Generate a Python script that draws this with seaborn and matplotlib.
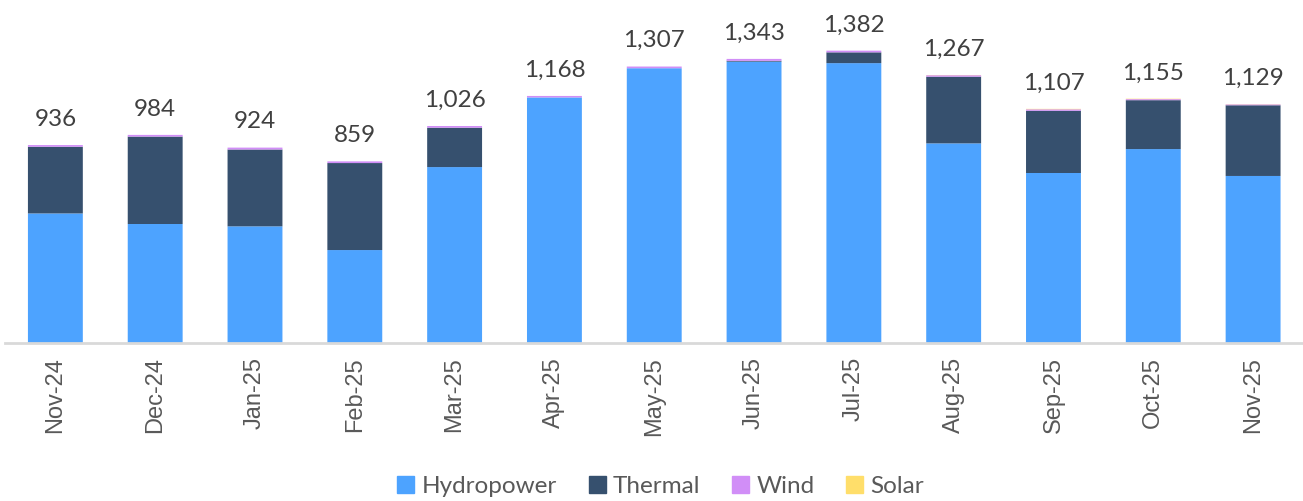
import numpy as np
import pandas as pd
import matplotlib.pyplot as plt
import seaborn as sns
from matplotlib.patches import Patch

months = ["Nov-24", "Dec-24", "Jan-25", "Feb-25", "Mar-25", "Apr-25", "May-25",
          "Jun-25", "Jul-25", "Aug-25", "Sep-25", "Oct-25", "Nov-25"]
hydro = [613, 563, 552, 440, 832, 1161, 1299, 1330, 1323, 944, 804, 917, 790]
thermal = [315, 413, 363, 411, 186, 0, 0, 4, 51, 315, 294, 231, 334]
wind = [8, 8, 9, 8, 8, 7, 8, 9, 8, 7, 7, 5, 4]
solar = [0, 0, 0, 0, 0, 0, 0, 0, 0, 1, 2, 2, 1]
totals = [936, 984, 924, 859, 1026, 1168, 1307, 1343, 1382, 1267, 1107, 1155, 1129]

colors = {"Hydropower": "#4DA3FF", "Thermal": "#36506E", "Wind": "#D18EF7", "Solar": "#FFDE6A"}

df = pd.DataFrame({"month": months, "Hydropower": hydro, "Thermal": thermal,
                   "Wind": wind, "Solar": solar})

sns.set_theme(style="white")
plt.rcParams['font.family'] = ['Lato', 'DejaVu Sans']
text_col = "#404040"

fig = plt.figure(figsize=(13.03, 5.01), dpi=100)
ax = fig.add_axes([0.0042, 0.315, 0.9958, 0.676])

# stacked bars
bottom = np.zeros(len(months))
for src in ["Hydropower", "Thermal", "Wind", "Solar"]:
    sns.barplot(data=df, x="month", y=src, color=colors[src], width=0.55,
                bottom=bottom, ax=ax, saturation=1, linewidth=0, snap=False)
    bottom = bottom + df[src].values

for i, t in enumerate(totals):
    ax.annotate(f"{t:,}", (i, bottom[i]), xytext=(0, 11), textcoords="offset points",
                ha="center", va="bottom", fontsize=17.5, color=text_col)

ax.set_ylim(0, 1600)
ax.set_xlim(-0.5, len(months) - 0.5)
ax.set_yticks([])
ax.set_xlabel("")
ax.set_ylabel("")
for s in ["top", "right", "left"]:
    ax.spines[s].set_visible(False)
ax.spines["bottom"].set_color("#D9D9D9")
ax.spines["bottom"].set_linewidth(2)
ax.set_xticks(range(len(months)), months, rotation=90, fontsize=17,
              family=["Liberation Sans", "DejaVu Sans"], color="#595959")
ax.tick_params(axis="x", length=0, pad=10)

handles = [Patch(color=c, label=k) for k, c in colors.items()]
fig.legend(handles=handles, loc="lower center", bbox_to_anchor=(0.507, -0.035), ncol=4,
           frameon=False, fontsize=17.5, handlelength=0.7, handleheight=0.7,
           handletextpad=0.3, columnspacing=1.3, labelcolor="#595959")

fig.savefig("out.png", dpi=100)
